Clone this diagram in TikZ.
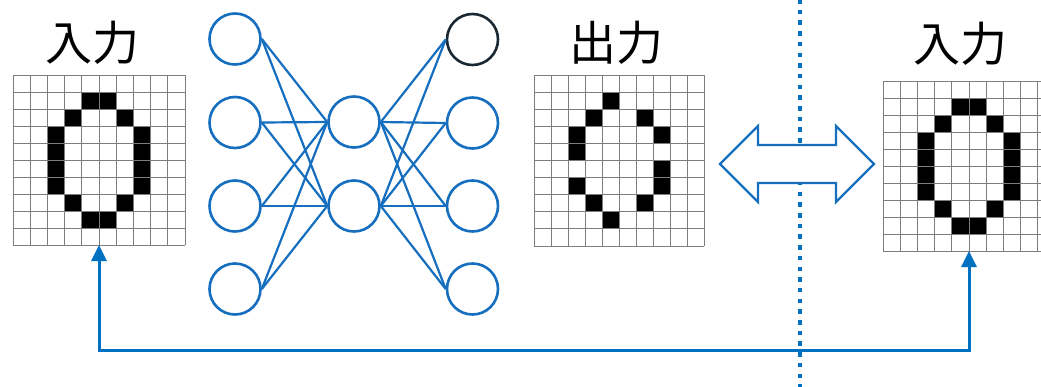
\documentclass[tikz,border=0pt]{standalone}
\usepackage{fontspec}
\newfontfamily\jpfont{Noto Sans CJK JP}
\usetikzlibrary{arrows.meta}
\definecolor{nnblue}{RGB}{22,110,190}
\definecolor{dotblue}{RGB}{0,112,192}
\definecolor{gridgray}{RGB}{125,125,125}
\definecolor{darkring}{RGB}{25,40,50}
\newcommand\drawpix[5]{%
  \foreach \c/\r in {#5} \fill[black] ({#1+\c*#3},{#2+\r*#4}) rectangle ++(#3,#4);
  \foreach \i in {0,...,10} {
    \draw[gridline] ({#1+\i*#3},#2) -- ++(0,{10*#4});
    \draw[gridline] (#1,{#2+\i*#4}) -- ++({10*#3},0);
  }%
}
\begin{document}
\begin{tikzpicture}[x=1pt,y=-1pt,
  gridline/.style={draw=gridgray,line width=1pt},
  neuron/.style={circle,draw=nnblue,line width=2.6pt,fill=white,minimum size=51pt,inner sep=0pt},
  link/.style={draw=nnblue,line width=2.2pt},
  lbl/.style={font=\jpfont\fontsize{47}{52}\selectfont,inner sep=0pt},
  gridbox/.style={inner sep=0pt,outer sep=0pt,minimum width=172pt,minimum height=170pt},
  conn/.style={draw=dotblue,line width=3pt,{Triangle[length=16pt,width=15pt]}-{Triangle[length=16pt,width=15pt]}}]
\useasboundingbox (0,0) rectangle (1041,386);
\clip (0,0) rectangle (1041,386);
\fill[white] (0,0) rectangle (1041,386);

% labels
\node[lbl] (t1) at (92,43) {入力};
\node[lbl] (t2) at (616,43) {出力};
\node[lbl] (t3) at (960,44) {入力};

% grids
\drawpix{13}{75}{17.2}{17}{4/1,5/1,3/2,6/2,2/3,2/4,2/5,2/6,7/3,7/4,7/5,7/6,3/7,6/7,4/8,5/8}
\node[gridbox] (g1) at (99,160) {};
\drawpix{534}{75}{17}{17.1}{4/1,3/2,6/2,2/3,7/3,2/4,7/5,2/6,7/6,3/7,6/7,4/8}
\node[gridbox] (g2) at (619,160.5) {};
\drawpix{883}{81}{17.2}{17}{4/1,5/1,3/2,6/2,2/3,2/4,2/5,2/6,7/3,7/4,7/5,7/6,3/7,6/7,4/8,5/8}
\node[gridbox] (g3) at (969,166) {};

% network
\node[neuron] (l1) at (235,39) {};
\node[neuron] (l2) at (235,122.5) {};
\node[neuron] (l3) at (235,206) {};
\node[neuron] (l4) at (235,289) {};
\node[neuron] (m1) at (354,122) {};
\node[neuron] (m2) at (354,206) {};
\node[neuron,draw=darkring] (r1) at (472.5,39.5) {};
\node[neuron] (r2) at (472.5,123) {};
\node[neuron] (r3) at (472.5,206) {};
\node[neuron] (r4) at (472.5,289) {};
\foreach \a in {l1,l2,l3,l4} \foreach \b in {m1,m2} \draw[link] (\a.east) -- (\b.west);
\foreach \a in {m1,m2} \foreach \b in {r1,r2,r3,r4} \draw[link] (\a.east) -- (\b.west);

% dotted separator
\draw[dotblue,line width=4.5pt,dash pattern=on 4.5pt off 6.2pt] (800,-1) -- (800,387);

% double block arrow
\draw[nnblue,line width=2.2pt,fill=white,line join=miter]
  (720,164) -- (758,126) -- (758,145) -- (836,145) -- (836,126) -- (874,164)
  -- (836,202) -- (836,183) -- (758,183) -- (758,202) -- cycle;

% feedback connector
\coordinate (bot) at (0,350);
\draw[conn] (g1.south) -- (g1.south |- bot) -| (g3.south);
\end{tikzpicture}
\end{document}
